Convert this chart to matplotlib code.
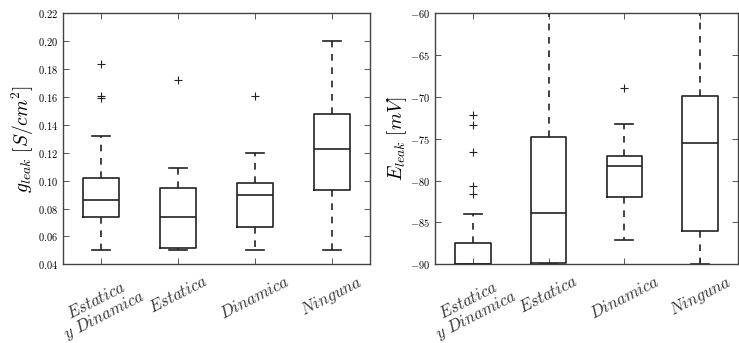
import matplotlib
matplotlib.use("Agg")
import matplotlib.pyplot as plt

plt.rcParams['font.family'] = ['cmr10', 'DejaVu Serif']
plt.rcParams['mathtext.fontset'] = 'cm'
plt.rcParams['axes.formatter.use_mathtext'] = True

categories = [r'$Estatica$' + '\n' + r'$y\ Dinamica$', r'$Estatica$', r'$Dinamica$', r'$Ninguna$']

# g_leak stats
g_whislo = [0.050, 0.050, 0.050, 0.050]
g_q1 = [0.074, 0.052, 0.0665, 0.093]
g_med = [0.086, 0.074, 0.090, 0.123]
g_q3 = [0.102, 0.095, 0.098, 0.1475]
g_whishi = [0.132, 0.109, 0.120, 0.200]
g_fliers = [[0.184, 0.161, 0.159], [0.172], [0.161], []]

# E_leak stats
e_whislo = [-90.0, -90.0, -87.1, -90.0]
e_q1 = [-90.0, -89.8, -81.9, -86.0]
e_med = [-90.0, -83.9, -78.3, -75.5]
e_q3 = [-87.5, -74.8, -77.0, -69.9]
e_whishi = [-84.0, -60.0, -73.2, -60.0]
e_fliers = [[-72.2, -73.3, -76.6, -80.6, -81.6], [], [-68.9], []]

g_ticks = [0.04, 0.06, 0.08, 0.10, 0.12, 0.14, 0.16, 0.18, 0.20, 0.22]
e_ticks = [-90, -85, -80, -75, -70, -65, -60]


def stats(wl, q1, med, q3, wh, fl):
    return [dict(whislo=a, q1=b, med=c, q3=d, whishi=e, fliers=f)
            for a, b, c, d, e, f in zip(wl, q1, med, q3, wh, fl)]


fig = plt.figure(figsize=(7.39, 3.43), dpi=100)
ax1 = fig.add_axes([0.0848, 0.2294, 0.4159, 0.7318])
ax2 = fig.add_axes([0.5886, 0.2294, 0.4100, 0.7318])

lc = '#222222'
common = dict(
    widths=0.47,
    boxprops=dict(color=lc, linewidth=1.2),
    medianprops=dict(color=lc, linewidth=1.2),
    whiskerprops=dict(color=lc, linewidth=1.2, linestyle=(0, (4, 4))),
    capprops=dict(color=lc, linewidth=1.2),
    flierprops=dict(marker='+', markeredgecolor=lc, markersize=6, markeredgewidth=0.8),
    showfliers=True,
)

ax1.bxp(stats(g_whislo, g_q1, g_med, g_q3, g_whishi, g_fliers), **common)
ax2.bxp(stats(e_whislo, e_q1, e_med, e_q3, e_whishi, e_fliers), **common)

ax1.set_ylim(0.04, 0.22)
ax1.set_yticks(g_ticks)
ax1.set_yticklabels([r'$%.2f$' % t for t in g_ticks])
ax2.set_ylim(-90, -60)
ax2.set_yticks(e_ticks)
ax2.set_yticklabels([r'$%d$' % t for t in e_ticks])

for ax in (ax1, ax2):
    ax.set_xlim(0.5, 4.5)
    ax.set_xticks([1, 2, 3, 4])
    ax.set_xticklabels(categories, rotation=27, fontsize=12, ha='center',
                       linespacing=1.0, color='#333333')
    ax.tick_params(direction='in', top=True, right=True, length=4, width=0.7,
                   color='#555555', labelsize=7.5)
    ax.tick_params(axis='x', labelsize=12, pad=6)
    for s in ax.spines.values():
        s.set_color('#444444')
        s.set_linewidth(1.0)

ax1.set_ylabel(r'$g_{leak}\ [S/cm^2]$', fontsize=14, labelpad=1)
ax2.set_ylabel(r'$E_{leak}\ [mV]$', fontsize=14, labelpad=1)

fig.savefig('out.png', dpi=100)
